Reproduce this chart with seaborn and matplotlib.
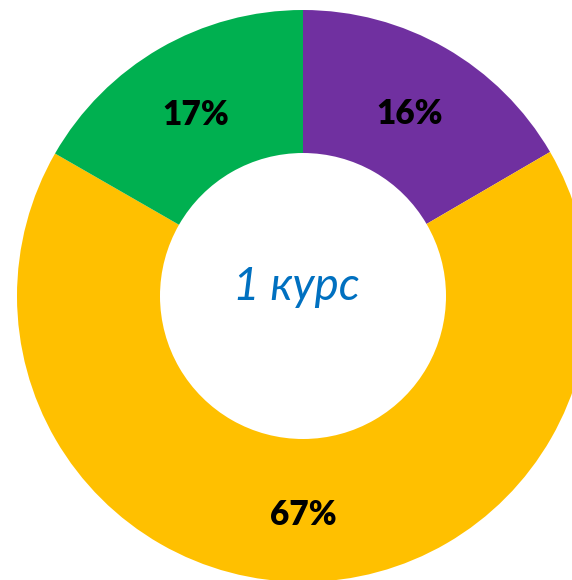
import matplotlib
matplotlib.use("Agg")
import numpy as np
import seaborn as sns
import matplotlib.pyplot as plt

# доли по курсу (по часовой стрелке, начиная сверху)
segments = ["purple", "yellow", "green"]
shares = [16.6, 66.7, 16.7]
share_labels = ["16%", "67%", "17%"]
colors = ["#7030A0", "#FFC000", "#00B050"]
center_title = "1 курс"

sns.set_style("white")
plt.rcParams['font.family'] = ['Lato', 'DejaVu Sans']

fig = plt.figure(figsize=(5.72, 5.8), dpi=100)
ax = fig.add_axes([0, 0, 1, 1])
wedges, _ = ax.pie(shares, colors=sns.color_palette(colors), startangle=90,
                   counterclock=False, radius=1.0,
                   wedgeprops=dict(width=0.5, edgecolor="white", linewidth=0))

for w, lab in zip(wedges, share_labels):
    ang = np.deg2rad((w.theta1 + w.theta2) / 2)
    r = 0.75
    ax.text(r * np.cos(ang), r * np.sin(ang) - 0.015, lab, ha="center", va="center",
            fontsize=24, fontweight="heavy", color="black")

ax.text(-0.025, 0.03, center_title, ha="center", va="center", fontsize=33,
        fontstyle="italic", color="#0070C0")

ax.set_aspect("auto")
ax.set_xlim(-303 / 286, (572 - 303) / 286)
ax.set_ylim(-(580 - 296) / 286, 296 / 286)
ax.axis("off")
fig.savefig("out.png", dpi=100)
